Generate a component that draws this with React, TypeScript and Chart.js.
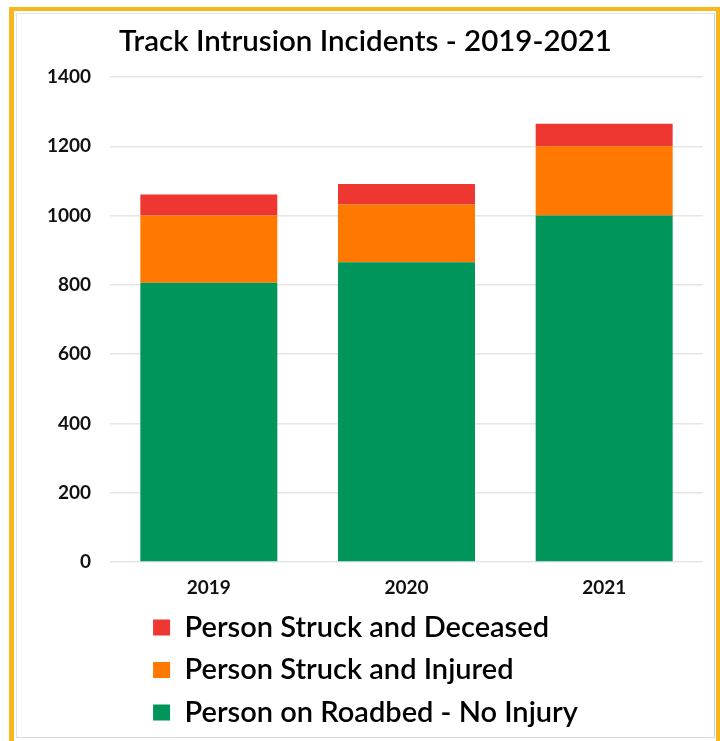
import { useEffect, useRef } from "react";
import { Chart, registerables } from "chart.js";

Chart.register(...registerables);

const years = ["2019", "2020", "2021"];
const seriesLabels = [
  "Person on Roadbed - No Injury",
  "Person Struck and Injured",
  "Person Struck and Deceased",
];
const noInjury = [806, 865, 1000];
const injured = [194, 167, 200];
const deceased = [61, 59, 65];
const seriesColors = ["#00965B", "#FF7900", "#EE3731"];
const yMin = 0;
const yMax = 1400;
const yStep = 200;

const FONT = "Lato, 'Open Sans', sans-serif";

const equalLegendLines = {
  id: "equalLegendLines",
  beforeDraw(chart: any) {
    const lg: any = chart.legend;
    if (lg && Array.isArray(lg.lineWidths) && lg.lineWidths.length) {
      const m = Math.max(...lg.lineWidths);
      lg.lineWidths = lg.lineWidths.map(() => m);
    }
  },
};

export default function App() {
  const ref = useRef<HTMLCanvasElement | null>(null);

  useEffect(() => {
    if (!ref.current) return;
    const chart = new Chart(ref.current, {
      type: "bar",
      data: {
        labels: years,
        datasets: [
          { label: seriesLabels[0], data: noInjury, backgroundColor: seriesColors[0] },
          { label: seriesLabels[1], data: injured, backgroundColor: seriesColors[1] },
          { label: seriesLabels[2], data: deceased, backgroundColor: seriesColors[2] },
        ],
      },
      options: {
        animation: false,
        responsive: false,
        layout: { padding: { left: 11, right: 11, top: 0, bottom: 0 } },
        datasets: {
          bar: { categoryPercentage: 1, barPercentage: 0.693 },
        },
        scales: {
          x: {
            stacked: true,
            grid: { display: false, drawTicks: false },
            border: { display: false },
            afterFit: (scale: any) => {
              scale.height = 37.5;
            },
            ticks: {
              color: "#111",
              padding: 14,
              font: { family: FONT, size: 19, weight: "bold" },
            },
          },
          y: {
            stacked: true,
            min: yMin,
            max: yMax,
            grid: { color: "#e6e6e6", lineWidth: 1.5, drawTicks: false },
            border: { display: false },
            afterFit: (scale: any) => {
              scale.width = 82;
            },
            ticks: {
              stepSize: yStep,
              color: "#111",
              padding: 19,
              font: { family: FONT, size: 19, weight: "bold" },
              callback: (v: any) => String(v),
            },
          },
        },
        plugins: {
          title: {
            display: true,
            text: "Track Intrusion Incidents - 2019-2021",
            color: "#000",
            font: { family: FONT, size: 29.5, weight: "600" },
            padding: { top: 10, bottom: 17.6 },
          },
          legend: {
            position: "bottom",
            reverse: true,
            labels: {
              color: "#000",
              boxWidth: 17,
              boxHeight: 16,
              padding: 13.5,
              font: { family: FONT, size: 29, weight: "600" },
            },
          },
          tooltip: { enabled: false },
        },
      },
      plugins: [equalLegendLines],
    } as any);
    return () => chart.destroy();
  }, []);

  return (
    <div
      style={{
        position: "fixed",
        left: 9,
        top: 7,
        width: 711,
        height: 734,
        boxSizing: "border-box",
        borderLeft: "5px solid #F9B71E",
        borderTop: "4px solid #F9B71E",
        borderRight: "4px solid #F9B71E",
        background: "#fff",
      }}
    >
      <div
        style={{
          position: "absolute",
          left: 2,
          top: 2,
          width: 699,
          height: 725,
          boxSizing: "border-box",
          border: "1px solid #e4e4e4",
          borderRightColor: "#d2d2d2",
          borderBottomColor: "#dadada",
          background: "#fff",
        }}
      >
        <canvas ref={ref} width={697} height={723} style={{ display: "block" }} />
      </div>
    </div>
  );
}
